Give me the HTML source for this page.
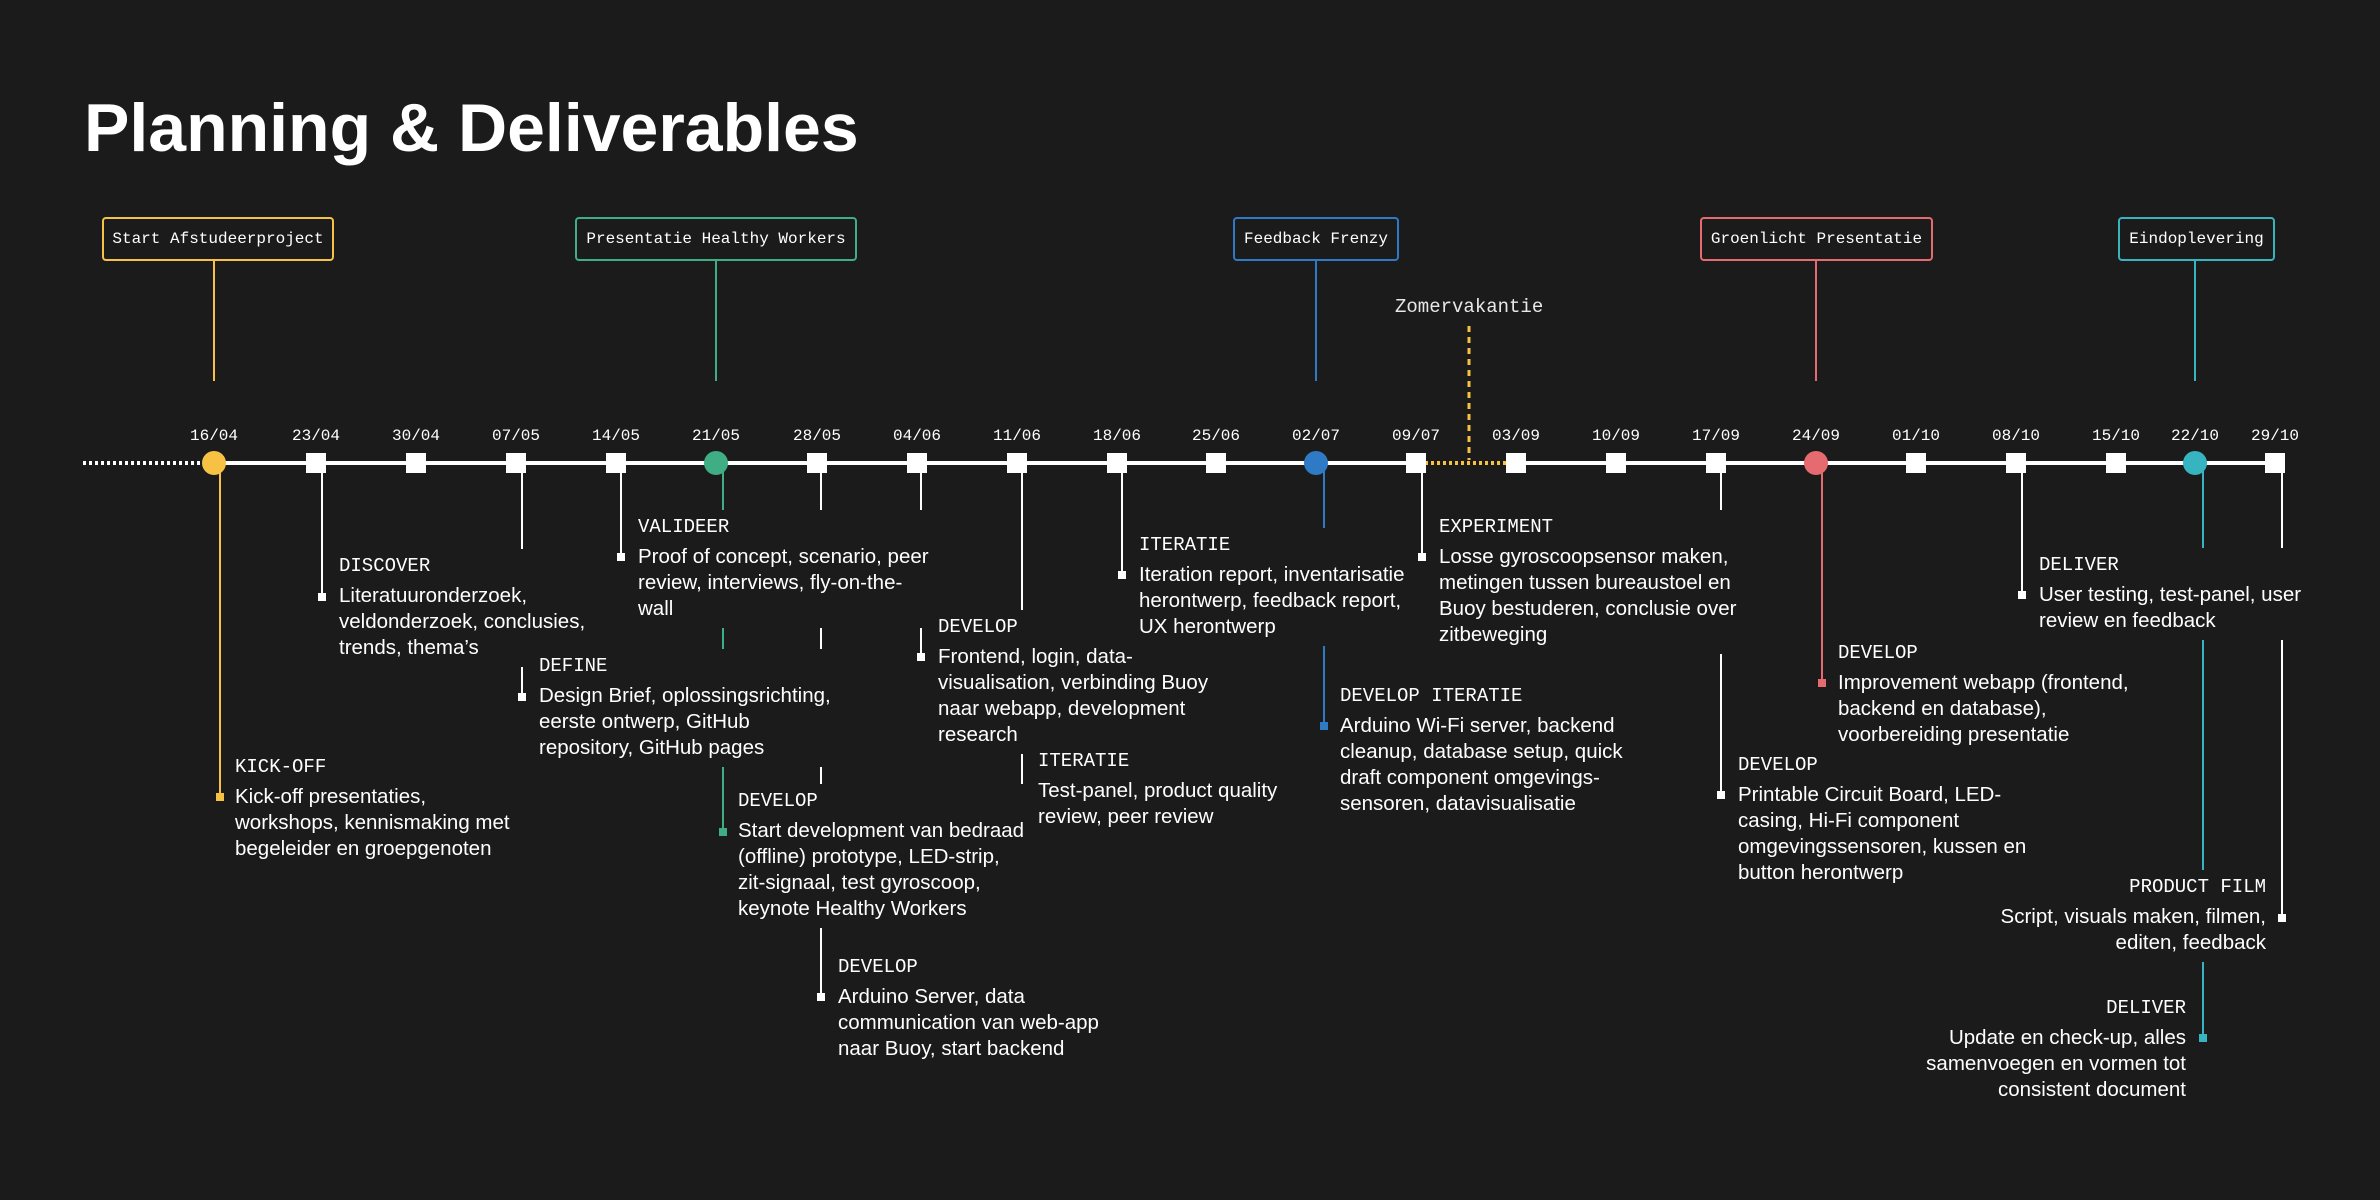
<!DOCTYPE html>
<html><head><meta charset="utf-8">
<style>
html,body{margin:0;padding:0;background:#1b1b1b;}
body{width:2380px;height:1200px;position:relative;overflow:hidden;color:#fff;}
.title{position:absolute;left:84px;top:83px;font:bold 68px/90px "Liberation Sans",sans-serif;color:#fff;white-space:nowrap;}
.box{position:absolute;top:217px;height:40px;border:2px solid;border-radius:4px;font:16px/40px "Liberation Mono",monospace;color:#fff;text-align:center;box-sizing:content-box;white-space:nowrap;}
.it{position:absolute;z-index:2;background:#1b1b1b;padding:4px 6px 6px 8px;white-space:nowrap;}
.it .h{font:19px/26px "Liberation Mono",monospace;color:#fff;height:30px;}
.it .b{font:20.5px/26px "Liberation Sans",sans-serif;color:#fff;}
.r{text-align:right;}
svg{position:absolute;left:0;top:0;z-index:1;}
.zv{position:absolute;left:1395px;top:294px;font:19px/26px "Liberation Mono",monospace;color:#e8e8e8;white-space:nowrap;}
</style></head><body>
<div class="title">Planning &amp; Deliverables</div>

<div class="box" style="left:102px;width:228px;border-color:#f7c244">Start Afstudeerproject</div>
<div class="box" style="left:575px;width:278px;border-color:#3fae85">Presentatie Healthy Workers</div>
<div class="box" style="left:1233px;width:162px;border-color:#2f7ac4">Feedback Frenzy</div>
<div class="box" style="left:1700px;width:229px;border-color:#e56b70">Groenlicht Presentatie</div>
<div class="box" style="left:2118px;width:153px;border-color:#36b4bf">Eindoplevering</div>
<div class="zv">Zomervakantie</div>

<svg width="2380" height="1200" viewBox="0 0 2380 1200">
<g stroke-width="2">
<line x1="214" y1="261" x2="214" y2="381" stroke="#f7c244"/>
<line x1="716" y1="261" x2="716" y2="381" stroke="#3fae85"/>
<line x1="1316" y1="261" x2="1316" y2="381" stroke="#2f7ac4"/>
<line x1="1816" y1="261" x2="1816" y2="381" stroke="#e56b70"/>
<line x1="2195" y1="261" x2="2195" y2="381" stroke="#36b4bf"/>
</g>
<line x1="1469" y1="326" x2="1469" y2="460" stroke="#f7c244" stroke-width="3" stroke-dasharray="6,5"/>
<line x1="83" y1="463" x2="210" y2="463" stroke="#fff" stroke-width="4" stroke-dasharray="3,3"/>
<line x1="214" y1="463" x2="1416" y2="463" stroke="#fff" stroke-width="4"/>
<line x1="1425" y1="463" x2="1510" y2="463" stroke="#f7c244" stroke-width="4" stroke-dasharray="3,3"/>
<line x1="1515" y1="463" x2="2275" y2="463" stroke="#fff" stroke-width="4"/>
<g font-family="Liberation Mono, monospace" font-size="16" fill="#fff" text-anchor="middle">
<text x="214" y="440">16/04</text><text x="316" y="440">23/04</text><text x="416" y="440">30/04</text><text x="516" y="440">07/05</text><text x="616" y="440">14/05</text><text x="716" y="440">21/05</text><text x="817" y="440">28/05</text><text x="917" y="440">04/06</text><text x="1017" y="440">11/06</text><text x="1117" y="440">18/06</text><text x="1216" y="440">25/06</text><text x="1316" y="440">02/07</text><text x="1416" y="440">09/07</text><text x="1516" y="440">03/09</text><text x="1616" y="440">10/09</text><text x="1716" y="440">17/09</text><text x="1816" y="440">24/09</text><text x="1916" y="440">01/10</text><text x="2016" y="440">08/10</text><text x="2116" y="440">15/10</text><text x="2195" y="440">22/10</text><text x="2275" y="440">29/10</text>
</g>
<g stroke-width="2" fill="none">
<line x1="220" y1="463" x2="220" y2="797" stroke="#f7c244"/>
<line x1="322" y1="463" x2="322" y2="597" stroke="#fff"/>
<line x1="522" y1="463" x2="522" y2="697" stroke="#fff"/>
<line x1="621" y1="463" x2="621" y2="557" stroke="#fff"/>
<line x1="723" y1="463" x2="723" y2="832" stroke="#3fae85"/>
<line x1="821" y1="463" x2="821" y2="997" stroke="#fff"/>
<line x1="921" y1="463" x2="921" y2="657" stroke="#fff"/>
<line x1="1022" y1="463" x2="1022" y2="791" stroke="#fff"/>
<line x1="1122" y1="463" x2="1122" y2="575" stroke="#fff"/>
<line x1="1324" y1="463" x2="1324" y2="726" stroke="#2f7ac4"/>
<line x1="1422" y1="463" x2="1422" y2="557" stroke="#fff"/>
<line x1="1721" y1="463" x2="1721" y2="795" stroke="#fff"/>
<line x1="1822" y1="463" x2="1822" y2="683" stroke="#e56b70"/>
<line x1="2022" y1="463" x2="2022" y2="595" stroke="#fff"/>
<line x1="2282" y1="463" x2="2282" y2="918" stroke="#fff"/>
<line x1="2203" y1="463" x2="2203" y2="1038" stroke="#36b4bf"/>
</g>
<g>
<rect x="216" y="793" width="8" height="8" fill="#f7c244"/>
<rect x="318" y="593" width="8" height="8" fill="#fff"/>
<rect x="518" y="693" width="8" height="8" fill="#fff"/>
<rect x="617" y="553" width="8" height="8" fill="#fff"/>
<rect x="719" y="828" width="8" height="8" fill="#3fae85"/>
<rect x="817" y="993" width="8" height="8" fill="#fff"/>
<rect x="917" y="653" width="8" height="8" fill="#fff"/>
<rect x="1018" y="787" width="8" height="8" fill="#fff"/>
<rect x="1118" y="571" width="8" height="8" fill="#fff"/>
<rect x="1320" y="722" width="8" height="8" fill="#2f7ac4"/>
<rect x="1418" y="553" width="8" height="8" fill="#fff"/>
<rect x="1717" y="791" width="8" height="8" fill="#fff"/>
<rect x="1818" y="679" width="8" height="8" fill="#e56b70"/>
<rect x="2018" y="591" width="8" height="8" fill="#fff"/>
<rect x="2278" y="914" width="8" height="8" fill="#fff"/>
<rect x="2199" y="1034" width="8" height="8" fill="#36b4bf"/>
</g>
<g fill="#fff">
<rect x="306" y="453" width="20" height="20"/><rect x="406" y="453" width="20" height="20"/><rect x="506" y="453" width="20" height="20"/><rect x="606" y="453" width="20" height="20"/><rect x="807" y="453" width="20" height="20"/><rect x="907" y="453" width="20" height="20"/><rect x="1007" y="453" width="20" height="20"/><rect x="1107" y="453" width="20" height="20"/><rect x="1206" y="453" width="20" height="20"/><rect x="1406" y="453" width="20" height="20"/><rect x="1506" y="453" width="20" height="20"/><rect x="1606" y="453" width="20" height="20"/><rect x="1706" y="453" width="20" height="20"/><rect x="1906" y="453" width="20" height="20"/><rect x="2006" y="453" width="20" height="20"/><rect x="2106" y="453" width="20" height="20"/><rect x="2265" y="453" width="20" height="20"/>
</g>
<circle cx="214" cy="463" r="12" fill="#f7c244"/>
<circle cx="716" cy="463" r="12" fill="#3fae85"/>
<circle cx="1316" cy="463" r="12" fill="#2f7ac4"/>
<circle cx="1816" cy="463" r="12" fill="#e56b70"/>
<circle cx="2195" cy="463" r="12" fill="#36b4bf"/>
</svg>

<div class="it" style="left:227px;top:750px"><div class="h">KICK-OFF</div><div class="b">Kick-off presentaties,<br>workshops, kennismaking met<br>begeleider en groepgenoten</div></div>
<div class="it" style="left:331px;top:549px"><div class="h">DISCOVER</div><div class="b">Literatuuronderzoek,<br>veldonderzoek, conclusies,<br>trends, thema’s</div></div>
<div class="it" style="left:531px;top:649px"><div class="h">DEFINE</div><div class="b">Design Brief, oplossingsrichting,<br>eerste ontwerp, GitHub<br>repository, GitHub pages</div></div>
<div class="it" style="left:630px;top:510px"><div class="h">VALIDEER</div><div class="b">Proof of concept, scenario, peer<br>review, interviews, fly-on-the-<br>wall</div></div>
<div class="it" style="left:730px;top:784px"><div class="h">DEVELOP</div><div class="b">Start development van bedraad<br>(offline) prototype, LED-strip,<br>zit-signaal, test gyroscoop,<br>keynote Healthy Workers</div></div>
<div class="it" style="left:830px;top:950px"><div class="h">DEVELOP</div><div class="b">Arduino Server, data<br>communication van web-app<br>naar Buoy, start backend</div></div>
<div class="it" style="left:930px;top:610px"><div class="h">DEVELOP</div><div class="b">Frontend, login, data-<br>visualisation, verbinding Buoy<br>naar webapp, development<br>research</div></div>
<div class="it" style="left:1030px;top:744px"><div class="h">ITERATIE</div><div class="b">Test-panel, product quality<br>review, peer review</div></div>
<div class="it" style="left:1131px;top:528px"><div class="h">ITERATIE</div><div class="b">Iteration report, inventarisatie<br>herontwerp, feedback report,<br>UX herontwerp</div></div>
<div class="it" style="left:1332px;top:679px"><div class="h">DEVELOP ITERATIE</div><div class="b">Arduino Wi-Fi server, backend<br>cleanup, database setup, quick<br>draft component omgevings-<br>sensoren, datavisualisatie</div></div>
<div class="it" style="left:1431px;top:510px"><div class="h">EXPERIMENT</div><div class="b">Losse gyroscoopsensor maken,<br>metingen tussen bureaustoel en<br>Buoy bestuderen, conclusie over<br>zitbeweging</div></div>
<div class="it" style="left:1730px;top:748px"><div class="h">DEVELOP</div><div class="b">Printable Circuit Board, LED-<br>casing, Hi-Fi component<br>omgevingssensoren, kussen en<br>button herontwerp</div></div>
<div class="it" style="left:1830px;top:636px"><div class="h">DEVELOP</div><div class="b">Improvement webapp (frontend,<br>backend en database),<br>voorbereiding presentatie</div></div>
<div class="it" style="left:2031px;top:548px"><div class="h">DELIVER</div><div class="b">User testing, test-panel, user<br>review en feedback</div></div>
<div class="it r" style="right:108px;top:870px"><div class="h">PRODUCT FILM</div><div class="b">Script, visuals maken, filmen,<br>editen, feedback</div></div>
<div class="it r" style="right:188px;top:991px"><div class="h">DELIVER</div><div class="b">Update en check-up, alles<br>samenvoegen en vormen tot<br>consistent document</div></div>
</body></html>
